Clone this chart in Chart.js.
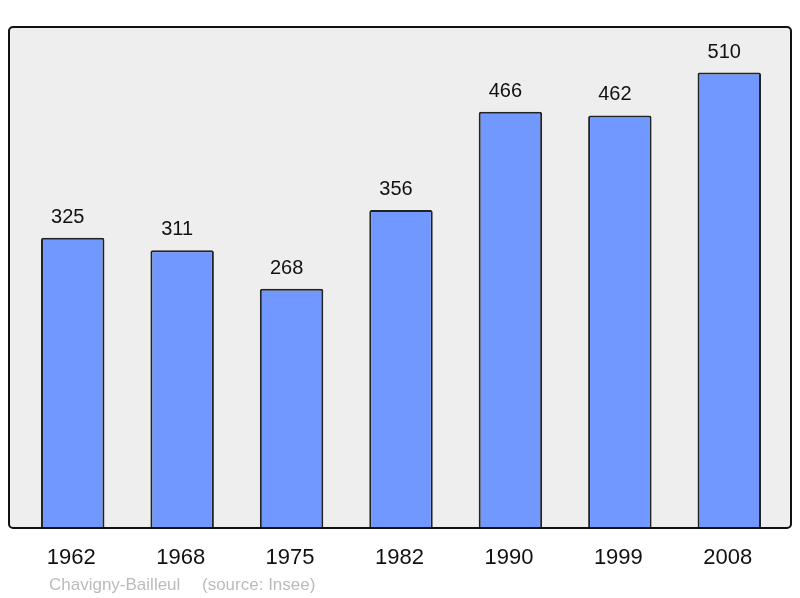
<!DOCTYPE html>
<html>
<head>
<meta charset="utf-8">
<script src="https://cdn.jsdelivr.net/npm/chart.js@4/dist/chart.umd.min.js"></script>
<style>
  html, body { margin: 0; padding: 0; background: #fff; }
  #wrap { width: 800px; height: 598px; }
</style>
</head>
<body>
<div id="wrap"><canvas id="popChart" width="800" height="598"></canvas></div>
<script>
const years = ['1962', '1968', '1975', '1982', '1990', '1999', '2008'];
const population = [325, 311, 268, 356, 466, 462, 510];
const commune = 'Chavigny-Bailleul';
const source = '(source: Insee)';

// frame, value labels, year labels and the source line
const decorPlugin = {
  id: 'decor',
  beforeDraw(chart) {
    const ctx = chart.ctx;
    ctx.save();
    ctx.beginPath();
    ctx.roundRect(9, 27, 782, 501, 4);
    ctx.fillStyle = '#eeeeee';
    ctx.fill();
    ctx.restore();
  },
  afterDatasetsDraw(chart) {
    const ctx = chart.ctx;
    const x = chart.scales.x;
    const y = chart.scales.y;
    ctx.save();
    ctx.beginPath();
    ctx.roundRect(9, 27, 782, 501, 4);
    ctx.lineWidth = 2;
    ctx.strokeStyle = '#111';
    ctx.stroke();

    ctx.fillStyle = '#111';
    ctx.textAlign = 'center';
    ctx.textBaseline = 'alphabetic';
    ctx.font = '20px "Liberation Sans", Arial, sans-serif';
    population.forEach((v, i) => {
      ctx.fillText(String(v), x.getPixelForValue(i) - 5, y.getPixelForValue(v) - 15);
    });

    ctx.font = '22px "Liberation Sans", Arial, sans-serif';
    years.forEach((yr, i) => {
      ctx.fillText(yr, x.getPixelForValue(i) - 1.5, 564);
    });

    ctx.fillStyle = '#bbbbbb';
    ctx.textAlign = 'left';
    ctx.font = '17px "Liberation Sans", Arial, sans-serif';
    ctx.fillText(commune, 49, 590);
    ctx.fillText(source, 202, 590);
    ctx.restore();
  }
};

new Chart(document.getElementById('popChart'), {
  type: 'bar',
  data: {
    labels: years,
    datasets: [{
      data: population,
      backgroundColor: '#7098ff',
      borderColor: '#222222',
      borderWidth: 2,
      borderRadius: 2,
      borderSkipped: 'bottom',
      barPercentage: 0.58,
      categoryPercentage: 1
    }]
  },
  options: {
    responsive: false,
    animation: false,
    layout: { padding: { left: 18, right: 16, top: 27, bottom: 70 } },
    plugins: { legend: { display: false }, tooltip: { enabled: false } },
    scales: {
      x: { display: false },
      y: { display: false, min: 0, max: 561 }
    }
  },
  plugins: [decorPlugin]
});
</script>
</body>
</html>
